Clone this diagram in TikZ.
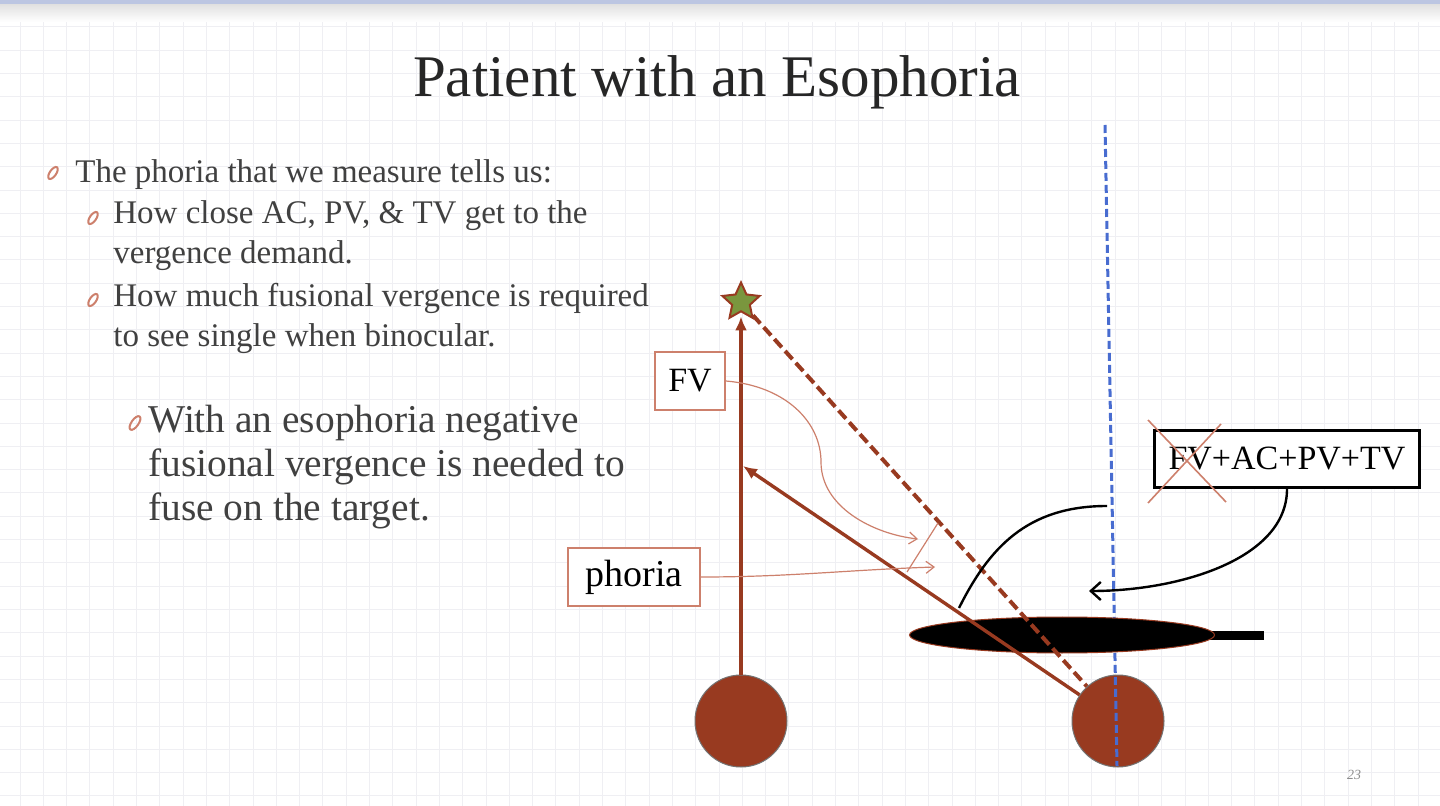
\documentclass[tikz,border=0pt]{standalone}
\usepackage{fontspec}
\setmainfont{Liberation Serif}
\usetikzlibrary{shapes.geometric, arrows.meta, positioning}
\definecolor{rust}{RGB}{152,58,32}
\definecolor{rustlight}{RGB}{205,128,108}
\definecolor{guideblue}{RGB}{72,108,208}
\definecolor{slidetext}{RGB}{64,64,64}
\definecolor{gridgray}{RGB}{239,239,243}
\definecolor{stargreen}{RGB}{122,150,62}
\definecolor{topband}{RGB}{188,198,226}

\begin{document}
\begin{tikzpicture}[
    x=0.5pt, y=-0.5pt,
    gridline/.style={draw=gridgray, line width=0.5pt},
    bullet/.style={ellipse, draw=rustlight, line width=1pt, minimum width=3.2pt,
        minimum height=7pt, inner sep=0pt, rotate=-35},
    bodytext/.style={anchor=base west, align=left, inner sep=0pt, text=slidetext,
        font=\fontsize{16.5}{20}\selectfont},
    eye/.style={circle, fill=rust, draw=black!55, line width=0.5pt, minimum size=46pt, inner sep=0pt},
    tag/.style={rectangle, draw=rustlight, line width=0.8pt, fill=white, inner sep=0pt,
        minimum height=29pt, font=\fontsize{17}{20}\selectfont},
    sight/.style={rust, line width=2pt},
    guide/.style={guideblue, line width=1.5pt, dash pattern=on 4pt off 2pt},
    pointer/.style={rustlight, line width=0.6pt, -{Straight Barb[length=4pt, width=6pt]}},
    link/.style={black, line width=1.2pt}
]
    % Page and grid
    \fill[white] (0,0) rectangle (1440,806);
    \useasboundingbox (0,0) rectangle (1440,806);
    \foreach \gx in {20,43.3,...,1440} \draw[gridline] (\gx,0) -- (\gx,806);
    \foreach \gy in {27,50.3,...,806} \draw[gridline] (0,\gy) -- (1440,\gy);
    \shade[top color=black!12, bottom color=white] (0,4) rectangle (1440,22);
    \fill[topband] (0,0) rectangle (1440,4);

    % Title
    \node[anchor=base, inner sep=0pt, text=black!85, font=\fontsize{29.5}{34}\selectfont] (title) at (717,97) {Patient with an Esophoria};

    % Bullets (base = last line)
    \node[bullet] (b1) at (53,173) {};
    \node[bodytext] (phoriatext) at (75,183) {The phoria that we measure tells us:};
    \node[bullet] (b2) at (93,218) {};
    \node[bodytext] (closetext) at (113,264) {How close AC, PV, \& TV get to the\\vergence demand.};
    \node[bullet] (b3) at (93,300) {};
    \node[bodytext] (fusiontext) at (113,347) {How much fusional vergence is required\\to see single when binocular.};
    \node[bullet, minimum width=3.5pt, minimum height=8pt] (b4) at (135,423) {};
    \node[bodytext, font=\fontsize{19.7}{22}\selectfont] (esotext) at (148,521) {With an esophoria negative\\fusional vergence is needed to\\fuse on the target.};

    % Eyes and target
    \node[eye] (lefteye) at (741,721) {};
    \node[eye] (righteye) at (1118,721) {};
    \node[star, star points=5, star point ratio=2.1, minimum size=19.5pt, inner sep=0pt,
        fill=stargreen, draw=rust, line width=1pt] (target) at (741,302) {};

    \coordinate (bluetop) at (1105,125);
    \coordinate (bluebot) at (1117,766);
    \coordinate (fixate) at (743,466);
    \coordinate (fvbend) at (821,462);
    \coordinate (fvtip) at (918,539);
    \coordinate (phoriatip) at (935,567);
    \coordinate (bluemark) at (1107,506);
    \coordinate (lensmark) at (959,608);
    \coordinate (lenstip) at (1089,591);

    % Midline and occluder
    \draw[guide] (bluetop) -- (bluebot);
    \fill (1200,631) rectangle (1264,640);
    \node[ellipse, fill=black, draw=rust, line width=0.5pt, minimum width=152.5pt,
        minimum height=18pt, inner sep=0pt] (occluder) at (1062,635) {};

    % Lines of sight
    \draw[sight, -{Latex[length=7pt, width=6pt]}, shorten >=2pt] (lefteye) -- (target);
    \draw[sight, dash pattern=on 5.5pt off 2.5pt] (target) -- (righteye);
    \draw[sight, line width=1.7pt, -{Latex[length=7pt, width=6pt]}] (righteye) -- (fixate);
    \draw[rustlight, line width=0.6pt] (938,523) -- (907,572);

    % Labels
    \node[tag, minimum width=35pt] (fvtag) at (690,381) {FV};
    \node[tag, minimum width=66pt, font=\fontsize{19}{22}\selectfont] (phoriatag) at (634,577) {phoria};
    \draw[pointer] (fvtag.east) .. controls +(60,5) and +(0,-40) .. (fvbend)
        .. controls +(0,45) and +(-45,-5) .. (fvtip);
    \draw[pointer] (phoriatag.east) .. controls +(90,0) and +(-90,3) .. (phoriatip);

    \node[rectangle, draw=black, line width=1.5pt, fill=white, minimum width=132.5pt,
        minimum height=28.5pt, inner sep=0pt, font=\fontsize{17}{20}\selectfont] (sumbox) at (1287,459) {FV+AC+PV+TV};
    \draw[rustlight, line width=0.8pt] (sumbox.west) ++(-5,-39) -- ++(78,82);
    \draw[rustlight, line width=0.8pt] (sumbox.west) ++(68,-35) -- ++(-73,79);

    \draw[link] (bluemark) .. controls +(-80,0) and +(30,-60) .. (lensmark);
    \draw[link, -{Straight Barb[length=5pt, width=9pt]}] (sumbox.south) .. controls +(0,70) and +(90,0) .. (lenstip);

    \node[text=black!45, font=\fontsize{7}{8}\selectfont\itshape] (pagenum) at (1354,775) {23};
\end{tikzpicture}
\end{document}
